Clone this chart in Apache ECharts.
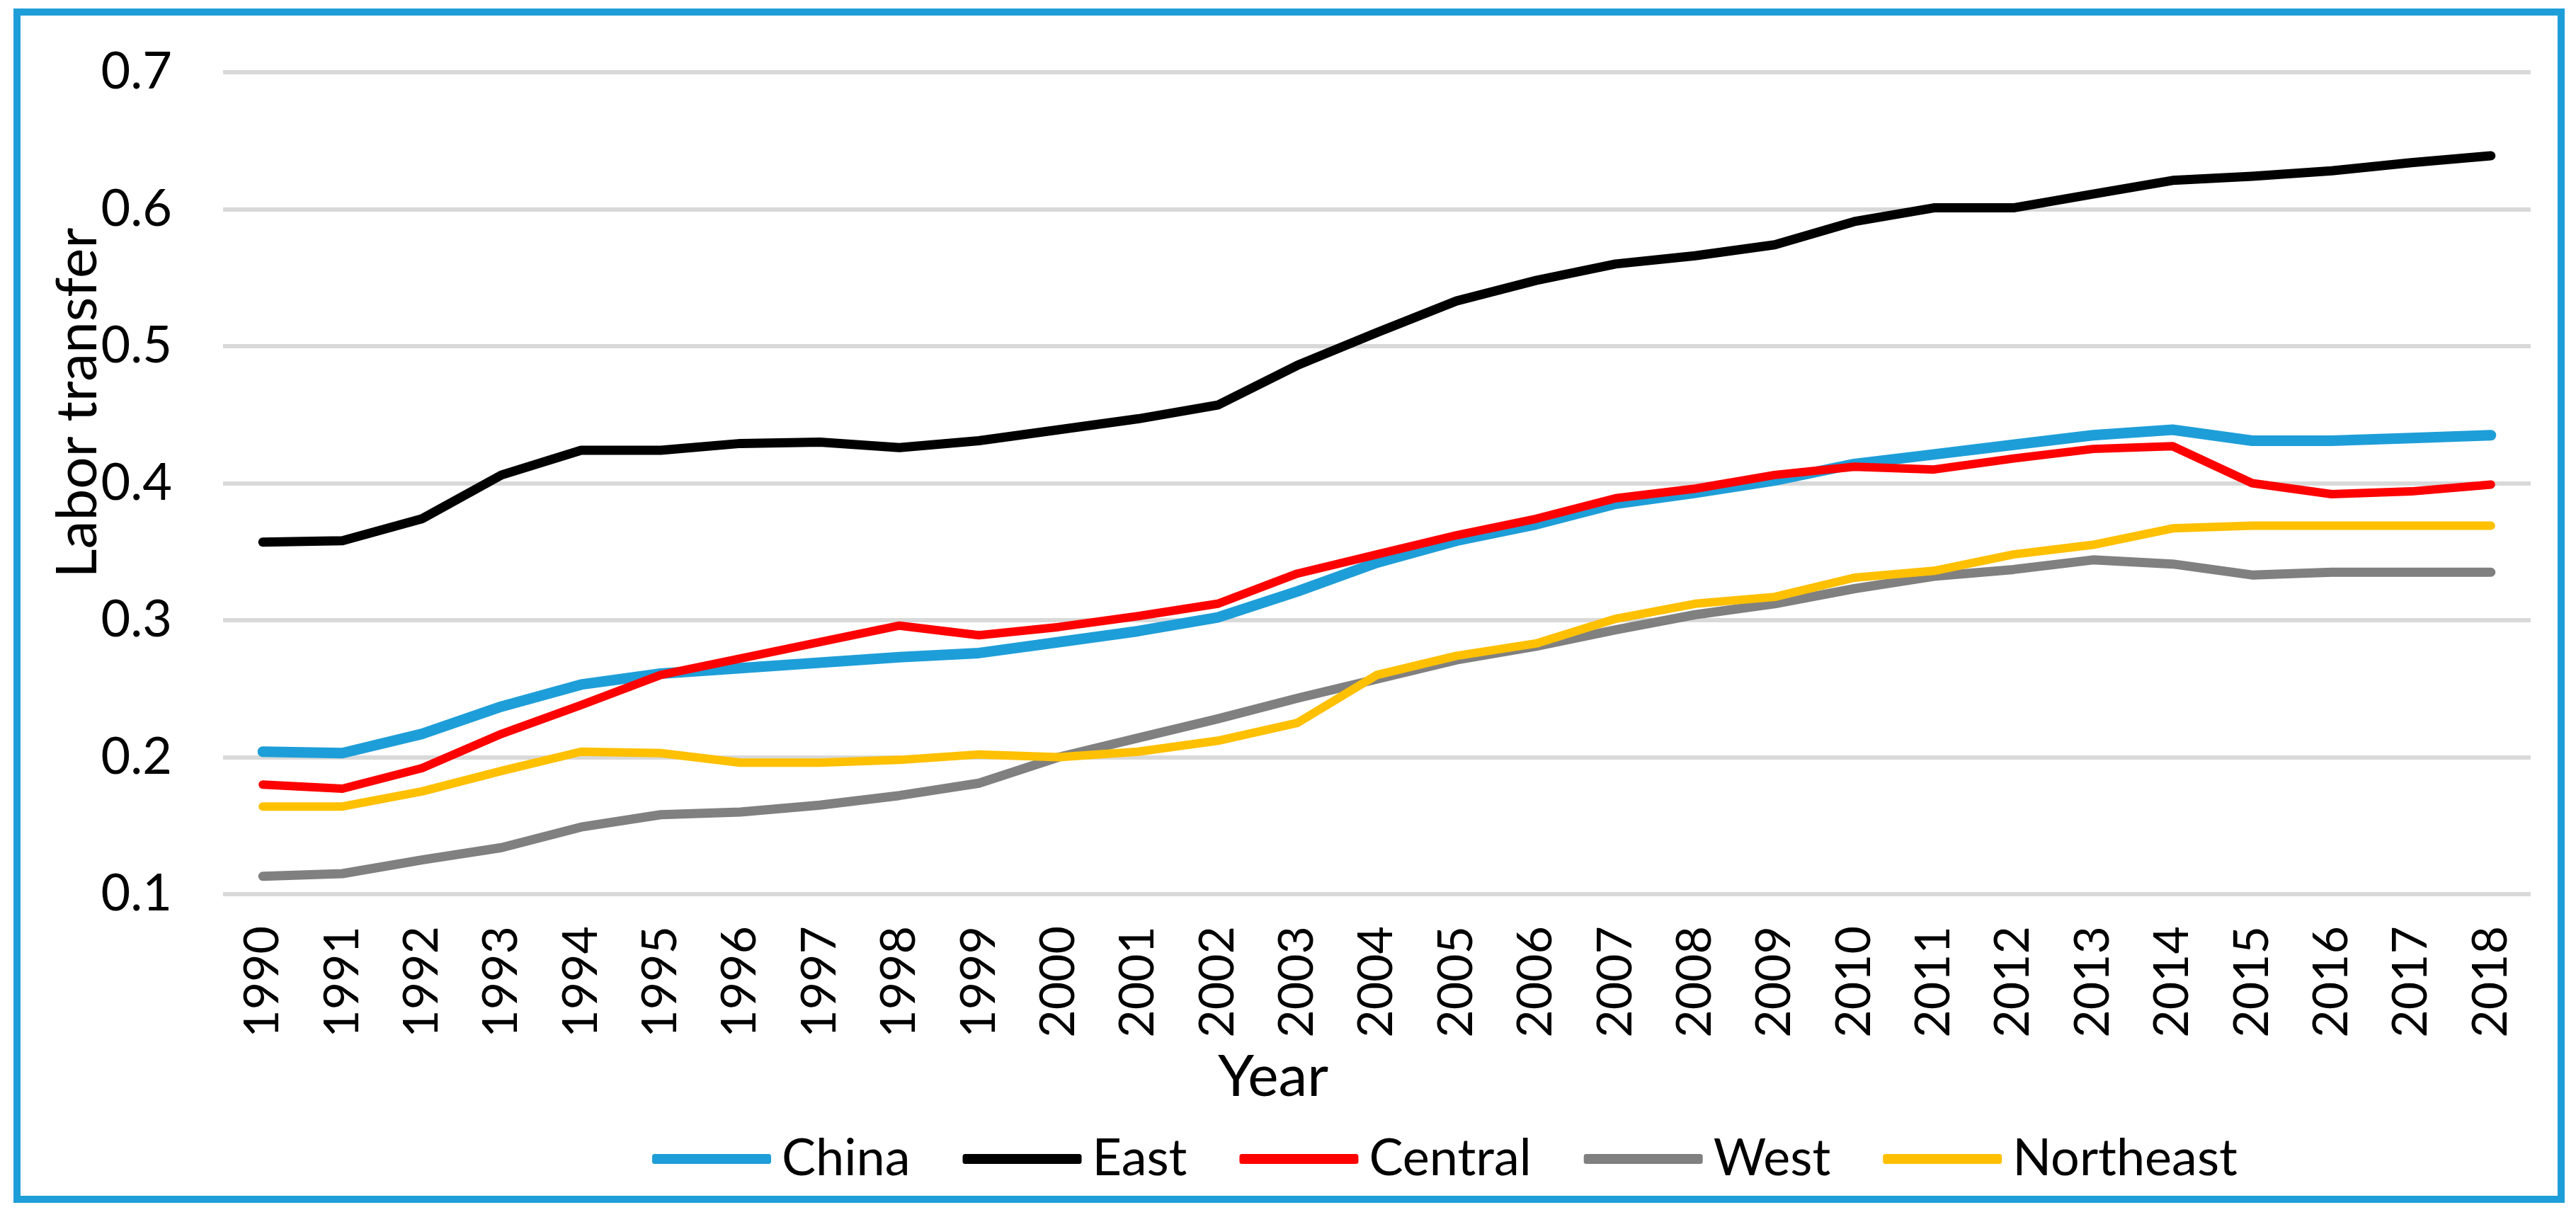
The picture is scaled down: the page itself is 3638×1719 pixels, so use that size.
<!DOCTYPE html>
<html>
<head>
<meta charset="utf-8">
<script src="https://cdn.jsdelivr.net/npm/echarts@6/dist/echarts.min.js"></script>
<style>
html,body{margin:0;padding:0;background:#fff;}
#chart{width:3638px;height:1719px;}
</style>
</head>
<body>
<div id="chart"></div>
<script>
const years = ['1990','1991','1992','1993','1994','1995','1996','1997','1998','1999','2000','2001','2002','2003','2004','2005','2006','2007','2008','2009','2010','2011','2012','2013','2014','2015','2016','2017','2018'];
const china = [0.204,0.203,0.217,0.237,0.253,0.261,0.265,0.269,0.273,0.276,0.284,0.292,0.302,0.321,0.342,0.358,0.370,0.385,0.393,0.402,0.414,0.421,0.428,0.435,0.439,0.431,0.431,0.433,0.435];
const east = [0.357,0.358,0.374,0.406,0.424,0.424,0.429,0.430,0.426,0.431,0.439,0.447,0.457,0.486,0.510,0.533,0.548,0.560,0.566,0.574,0.591,0.601,0.601,0.611,0.621,0.624,0.628,0.634,0.639];
const central = [0.180,0.177,0.192,0.217,0.238,0.260,0.272,0.284,0.296,0.289,0.295,0.303,0.312,0.334,0.348,0.362,0.374,0.389,0.396,0.406,0.412,0.410,0.418,0.425,0.427,0.400,0.392,0.394,0.399];
const west = [0.113,0.115,0.125,0.134,0.149,0.158,0.160,0.165,0.172,0.181,0.200,0.214,0.228,0.243,0.257,0.271,0.281,0.293,0.304,0.312,0.323,0.332,0.337,0.344,0.341,0.333,0.335,0.335,0.335];
const northeast = [0.164,0.164,0.175,0.190,0.204,0.203,0.196,0.196,0.198,0.202,0.200,0.204,0.212,0.225,0.260,0.274,0.283,0.301,0.312,0.317,0.331,0.336,0.348,0.355,0.367,0.369,0.369,0.369,0.369];
const yTicks = ['0.1','0.2','0.3','0.4','0.5','0.6','0.7'];

const FONT = 'Lato, sans-serif';
const chart = echarts.init(document.getElementById('chart'), null, {renderer:'canvas'});

function mk(name, data, color, width){
  return {
    name, type:'line', data, symbol:'none', smooth:false,
    lineStyle:{color, width, cap:'round', join:'round'},
    itemStyle:{color},
    emphasis:{disabled:true}
  };
}

chart.setOption({
  animation:false,
  backgroundColor:'#ffffff',
  grid:{left:315, right:64, top:102, bottom:456, containLabel:false},
  xAxis:{
    type:'category', data:years, boundaryGap:true,
    axisLine:{show:false}, axisTick:{show:false},
    axisLabel:{rotate:90, margin:45, color:'#000', fontSize:68, fontFamily:FONT, interval:0}
  },
  yAxis:{
    type:'value', min:0.1, max:0.7, interval:0.1,
    axisLine:{show:false}, axisTick:{show:false},
    splitLine:{lineStyle:{color:'#D9D9D9', width:6}},
    axisLabel:{margin:72, color:'#000', fontSize:72, fontFamily:FONT,
      formatter:v=>yTicks[Math.round((v-0.1)*10)] || v.toFixed(1)}
  },
  legend:{
    left:916, top:1596,
    icon:'roundRect', itemWidth:168, itemHeight:14, itemGap:74,
    textStyle:{fontSize:72, fontFamily:FONT, color:'#000', padding:[0,0,0,10]},
    data:['China','East','Central','West','Northeast']
  },
  graphic:[
    {type:'rect', shape:{x:24, y:17, width:3593, height:1677}, style:{fill:'none', stroke:'#1E9ED8', lineWidth:10}, silent:true},
    {type:'text', x:1798, y:1522, style:{text:'Year', fontSize:82, fontFamily:FONT, fill:'#000', align:'center', verticalAlign:'middle'}},
    {type:'text', x:110, y:569, rotation:Math.PI/2, style:{text:'Labor transfer', fontSize:80, fontFamily:FONT, fill:'#000', align:'center', verticalAlign:'middle'}}
  ],
  series:[
    mk('China', china, '#1E9ED8', 15),
    mk('East', east, '#000000', 13),
    mk('Central', central, '#FF0000', 12),
    mk('West', west, '#808080', 13),
    mk('Northeast', northeast, '#FFC000', 12)
  ]
});
</script>
</body>
</html>
